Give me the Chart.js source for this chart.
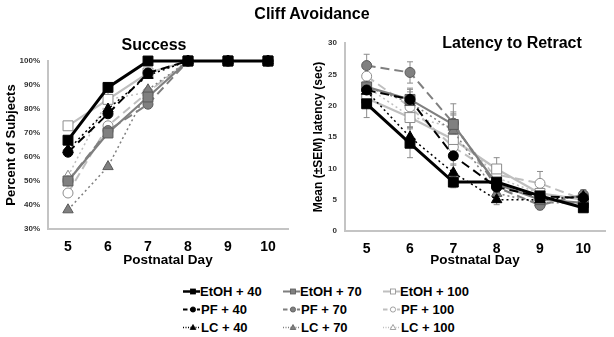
<!DOCTYPE html>
<html><head><meta charset="utf-8">
<script src="https://cdn.jsdelivr.net/npm/chart.js@4.4.1/dist/chart.umd.min.js"></script>
<style>
html,body{margin:0;padding:0;background:#fff;width:614px;height:337px;overflow:hidden;font-family:"Liberation Sans",Arial,sans-serif;}
.box{position:absolute;top:0;}
.t{position:absolute;font-weight:bold;transform:translate(-50%,-50%);white-space:nowrap;color:#000;z-index:5;}
.leg{position:absolute;font:bold 13px "Liberation Sans",Arial,sans-serif;color:#000;display:flex;align-items:center;white-space:nowrap;transform:translateY(-50%);}
.leg svg{margin-right:0px;}
</style></head><body>
<div class="box" style="left:0;width:300px;height:280px"><canvas id="c1" width="300" height="280"></canvas></div>
<div class="box" style="left:300px;width:314px;height:280px"><canvas id="c2" width="314" height="280"></canvas></div>
<div class="t" style="left:312px;top:14px;font-size:16px">Cliff Avoidance</div>
<div class="t" style="left:154px;top:45px;font-size:16px">Success</div>
<div class="t" style="left:512px;top:43px;font-size:16px">Latency to Retract</div>
<div id="legend"></div>
<script>
// ---- categories ----
const days = ['5', '6', '7', '8', '9', '10'];
const seriesNames = ['EtOH + 40', 'PF + 40', 'LC + 40', 'EtOH + 70', 'PF + 70', 'LC + 70', 'EtOH + 100', 'PF + 100', 'LC + 100'];

// ---- Success (% of subjects) ----
const succEtOH40  = [67, 89, 100, 100, 100, 100];
const succPF40    = [62, 78, 95, 100, 100, 100];
const succLC40    = [63, 80, 94, 100, 100, 100];
const succEtOH70  = [50, 70, 85, 100, 100, 100];
const succPF70    = [50, 71, 82, 100, 100, 100];
const succLC70    = [38, 56, 88, 100, 100, 100];
const succEtOH100 = [73, 84, 95, 100, 100, 100];
const succPF100   = [45, 73, 87, 100, 100, 100];
const succLC100   = [52, 84, 87, 100, 100, 100];

// ---- Latency to retract (sec) ----
const latEtOH40  = [20.3, 14.0, 7.8, 7.8, 5.6, 3.7];
const latPF40    = [22.5, 21.0, 12.0, 7.0, 5.5, 5.3];
const latLC40    = [22.3, 15.0, 9.3, 5.0, 5.0, 5.5];
const latEtOH70  = [23.0, 21.0, 17.0, 7.5, 5.0, 4.5];
const latPF70    = [26.4, 25.3, 17.2, 7.0, 4.1, 5.8];
const latLC70    = [23.0, 20.5, 16.0, 6.0, 4.5, 4.5];
const latEtOH100 = [21.2, 18.1, 14.6, 9.9, 6.0, 5.0];
const latPF100   = [24.7, 19.8, 13.4, 9.0, 7.6, 5.0];
const latLC100   = [23.0, 18.3, 16.5, 8.5, 6.0, 5.0];

// ---- SEM for latency ----
const semEtOH40  = [2.2, 2.3, 0.9, 1.0, 0.8, 0.6];
const semPF40    = [1.5, 1.8, 1.5, 1.0, 0.8, 0.7];
const semLC40    = [1.5, 1.6, 1.4, 0.8, 0.7, 0.6];
const semEtOH70  = [1.5, 1.6, 2.0, 1.0, 0.8, 0.7];
const semPF70    = [1.8, 1.7, 3.1, 1.2, 0.7, 0.8];
const semLC70    = [1.6, 1.7, 2.5, 1.0, 0.8, 0.7];
const semEtOH100 = [1.5, 1.6, 1.8, 1.8, 1.0, 0.8];
const semPF100   = [1.6, 1.8, 2.0, 1.3, 1.9, 0.8];
const semLC100   = [1.5, 1.7, 2.2, 1.2, 1.0, 0.8];

// y ticks
const succTicks = [30, 40, 50, 60, 70, 80, 90, 100];
const latTicks = [0, 5, 10, 15, 20, 25, 30];

const succData = [succEtOH40, succPF40, succLC40, succEtOH70, succPF70, succLC70, succEtOH100, succPF100, succLC100];
const latData = [latEtOH40, latPF40, latLC40, latEtOH70, latPF70, latLC70, latEtOH100, latPF100, latLC100];
const semData = [semEtOH40, semPF40, semLC40, semEtOH70, semPF70, semLC70, semEtOH100, semPF100, semLC100];

// ---- styles ----
const doseLine   = {'40': '#000000', '70': '#7f7f7f', '100': '#bfbfbf'};
const doseFill   = {'40': '#000000', '70': '#808080', '100': '#ffffff'};
const doseBorder = {'40': '#000000', '70': '#5a5a5a', '100': '#8c8c8c'};
const grpDash  = {'EtOH': [], 'PF': [9, 5], 'LC': [2, 3]};
const grpPoint = {'EtOH': 'rect', 'PF': 'circle', 'LC': 'triangle'};
const grpRad   = {'EtOH': 7, 'PF': 5, 'LC': 6};
const grpWidth = {'EtOH': 2.2, 'PF': 2, 'LC': 1.5};

function styleFor(name) {
  const [grp, dose] = name.split(' + ');
  return {
    grp, dose,
    borderColor: doseLine[dose],
    borderDash: grpDash[grp],
    borderWidth: (name === 'EtOH + 40') ? 3 : grpWidth[grp],
    pointStyle: grpPoint[grp],
    pointRadius: grpRad[grp],
    pointBackgroundColor: doseFill[dose],
    pointBorderColor: doseBorder[dose],
  };
}

function makeDatasets(dataArr, semArr) {
  return seriesNames.map((n, i) => {
    const s = styleFor(n);
    return {
      label: n, data: dataArr[i], sem: semArr ? semArr[i] : null,
      borderColor: s.borderColor, borderDash: s.borderDash, borderWidth: s.borderWidth,
      pointStyle: s.pointStyle, pointRadius: s.pointRadius, pointHoverRadius: s.pointRadius,
      pointBackgroundColor: s.pointBackgroundColor, pointBorderColor: s.pointBorderColor,
      pointBorderWidth: 1, tension: 0, fill: false, clip: false
    };
  });
}

const errPlugin = {
  id: 'errbars',
  beforeDatasetsDraw(chart) {
    const ctx = chart.ctx, xs = chart.scales.x, ys = chart.scales.y;
    ctx.save();
    ctx.strokeStyle = '#8c8c8c'; ctx.lineWidth = 1; ctx.setLineDash([]);
    chart.data.datasets.forEach(ds => {
      if (!ds.sem) return;
      ds.data.forEach((v, j) => {
        const px = xs.getPixelForValue(j);
        const yt = ys.getPixelForValue(v + ds.sem[j]);
        const yb = ys.getPixelForValue(v - ds.sem[j]);
        ctx.beginPath();
        ctx.moveTo(px, yt); ctx.lineTo(px, yb);
        ctx.moveTo(px - 3, yt); ctx.lineTo(px + 3, yt);
        ctx.moveTo(px - 3, yb); ctx.lineTo(px + 3, yb);
        ctx.stroke();
      });
    });
    ctx.restore();
  }
};

const FONT = "'Liberation Sans', Arial, sans-serif";

function baseOptions(cfg) {
  return {
    responsive: false, animation: false,
    events: [],
    layout: {padding: {left: 0, right: cfg.padRight, top: cfg.padTop, bottom: 8}},
    plugins: {legend: {display: false}, tooltip: {enabled: false}, title: {display: false}},
    scales: {
      x: {
        type: 'category', offset: true,
        grid: {display: false, drawTicks: false},
        border: {display: true, color: '#c4c4c4', width: 2},
        ticks: {font: {family: FONT, size: 14, weight: 'bold'}, color: '#000', padding: 10, maxRotation: 0},
        title: {display: true, text: 'Postnatal Day', font: {family: FONT, size: 13.5, weight: 'bold'}, color: '#000', padding: {top: 0, bottom: 4}},
        afterFit: s => { s.height = cfg.xHeight; }
      },
      y: {
        min: cfg.min, max: cfg.max,
        grid: {display: false, drawTicks: false},
        border: {display: true, color: '#c4c4c4', width: 2},
        afterBuildTicks: s => { s.ticks = cfg.ticks.map(v => ({value: v})); },
        ticks: {font: {family: FONT, size: 8, weight: 'bold'}, color: '#333', padding: 8, callback: cfg.fmt},
        title: {display: true, text: cfg.ytitle, font: {family: FONT, size: cfg.ytSize, weight: 'bold'}, color: '#000', padding: {top: cfg.ytPad, bottom: 0}},
        afterFit: s => { s.width = cfg.yWidth; }
      }
    }
  };
}

new Chart(document.getElementById('c1'), {
  type: 'line',
  data: {labels: days, datasets: makeDatasets(succData, null)},
  options: baseOptions({padRight: 12, padTop: 61, xHeight: 43, yWidth: 48, min: 30, max: 100,
    ticks: succTicks, fmt: v => v + '%', ytitle: 'Percent of Subjects', ytSize: 13, ytPad: 4})
});

new Chart(document.getElementById('c2'), {
  type: 'line',
  data: {labels: days, datasets: makeDatasets(latData, semData)},
  options: baseOptions({padRight: 9, padTop: 43, xHeight: 41, yWidth: 45, min: 0, max: 30,
    ticks: latTicks, fmt: v => String(v), ytitle: 'Mean (±SEM) latency (sec)', ytSize: 12, ytPad: 11}),
  plugins: [errPlugin]
});

// ---- HTML legend (3 x 3 grid) ----
const legCols = [183, 283, 383];
const legRows = [291, 309, 327];
const legend = document.getElementById('legend');
seriesNames.forEach(n => {
  const s = styleFor(n);
  const col = ['40', '70', '100'].indexOf(s.dose);
  const row = ['EtOH', 'PF', 'LC'].indexOf(s.grp);
  const dash = s.borderDash.length ? `stroke-dasharray="${s.borderDash.map(d => d * 0.5).join(',')}"` : '';
  let mk = '';
  const cx = 10, cy = 6;
  if (s.pointStyle === 'rect') mk = `<rect x="${cx - 2.5}" y="${cy - 2.5}" width="5" height="5" fill="${s.pointBackgroundColor}" stroke="${s.pointBorderColor}" stroke-width="0.8"/>`;
  else if (s.pointStyle === 'circle') mk = `<circle cx="${cx}" cy="${cy}" r="2.6" fill="${s.pointBackgroundColor}" stroke="${s.pointBorderColor}" stroke-width="0.8"/>`;
  else mk = `<polygon points="${cx},${cy - 3} ${cx + 2.8},${cy + 2} ${cx - 2.8},${cy + 2}" fill="${s.pointBackgroundColor}" stroke="${s.pointBorderColor}" stroke-width="0.8"/>`;
  const svg = `<svg width="17" height="12" viewBox="0 0 17 12"><line x1="0" y1="6" x2="17" y2="6" stroke="${s.borderColor}" stroke-width="${Math.min(s.borderWidth, 2.5)}" ${dash}/>${mk}</svg>`;
  const d = document.createElement('div');
  d.className = 'leg';
  d.style.left = legCols[col] + 'px';
  d.style.top = legRows[row] + 'px';
  d.innerHTML = svg + `<span style="margin-left:${s.grp === 'EtOH' ? 0 : 1}px">${n}</span>`;
  legend.appendChild(d);
});
</script>
</body></html>
